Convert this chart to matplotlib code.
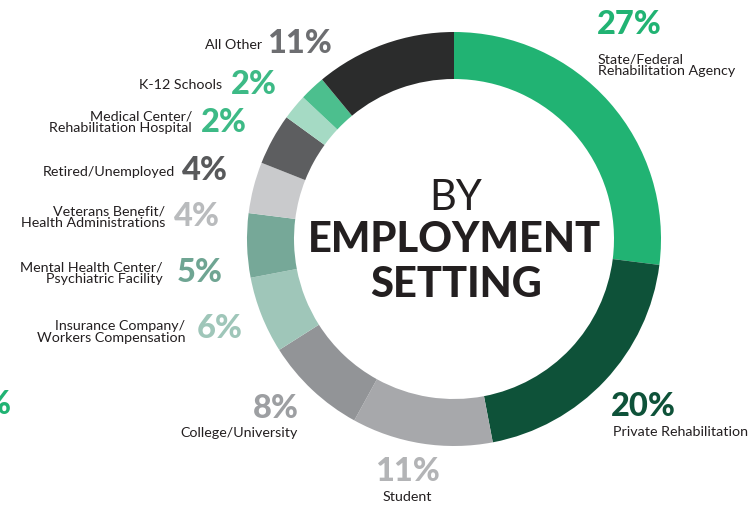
import matplotlib
matplotlib.use("Agg")
import matplotlib.pyplot as plt

# ---- data ----
categories = ["State/Federal\nRehabilitation Agency", "Private Rehabilitation", "Student",
              "College/University", "Insurance Company/\nWorkers Compensation",
              "Mental Health Center/\nPsychiatric Facility", "Veterans Benefit/\nHealth Administrations",
              "Retired/Unemployed", "Medical Center/\nRehabilitation Hospital", "K-12 Schools", "All Other"]
values = [27, 20, 11, 8, 6, 5, 4, 4, 2, 2, 11]
colors = ["#21B373", "#0E5239", "#A7A8AB", "#929497", "#9FC6B9", "#76A898",
          "#C9CACC", "#5D5E60", "#A5DAC4", "#4CBF8E", "#2B2C2C"]
label_colors = ["#21B373", "#0E5239", "#B3B4B6", "#9D9FA2", "#9FC6B9", "#6FA593",
                "#B9BBBD", "#58595B", "#3DBA86", "#3DBA86", "#6D6E71"]
pct_labels = [f"{v}%" for v in values]

W, H = 756, 506
fig = plt.figure(figsize=(W / 100, H / 100), dpi=100)
ax = fig.add_axes([0, 0, 1, 1])

cx, cy, R, ring = 454, H - 240, 207, 47
ax.pie(values, colors=colors, startangle=90, counterclock=False,
       center=(cx, cy), radius=R,
       wedgeprops=dict(width=ring, edgecolor="none", linewidth=0, antialiased=True))
ax.set_xlim(0, W)
ax.set_ylim(0, H)
ax.set_aspect("equal")
ax.axis("off")

FONT = ["Lato", "DejaVu Sans"]

def Y(ypx):
    return H - ypx

# layout: (pct x, pct y, pct ha, label x, label y, label ha)
layout = [
    (597, 24, "left", 598, 65, "left"),
    (611, 406, "left", 613, 432, "left"),
    (407, 472, "center", 407, 497, "center"),
    (299, 408, "right", 298, 433, "right"),
    (197, 329, "left", 185, 332, "right"),
    (177, 272, "left", 163, 273, "right"),
    (174, 217, "left", 165, 217, "right"),
    (182, 170, "left", 175, 172, "right"),
    (201, 123, "left", 192, 122, "right"),
    (231, 84, "left", 222, 85, "right"),
    (267, 43, "left", 262, 45, "right"),
]

for cat, pct, col, (px, py, pha, lx, ly, lha) in zip(categories, pct_labels, label_colors, layout):
    ax.text(px, Y(py), pct, color=col, fontsize=23.5, fontweight="black", family=FONT,
            ha=pha, va="center")
    ax.text(lx, Y(ly), cat, color="#231F20", fontsize=10.3, family=FONT,
            ha=lha, va="center", multialignment=lha, linespacing=1.0)

# center title
ax.text(cx + 2, Y(198), "BY", fontsize=30, fontweight="normal", family=FONT,
        ha="center", va="center", color="#231F20")
ax.text(cx, Y(240), "EMPLOYMENT", fontsize=30, fontweight="black", family=FONT,
        ha="center", va="center", color="#231F20")
ax.text(cx + 2, Y(285), "SETTING", fontsize=30, fontweight="black", family=FONT,
        ha="center", va="center", color="#231F20")

# remnants of neighbouring graphic cut at the left edge
ax.text(-16, Y(405), "%", color="#21B373", fontsize=23.5, fontweight="black", family=FONT,
        ha="left", va="center", clip_on=True)
ax.text(-4, Y(431), ")", color="#231F20", fontsize=10.3, family=FONT,
        ha="left", va="center", clip_on=True)

fig.savefig("out.png", dpi=100)
